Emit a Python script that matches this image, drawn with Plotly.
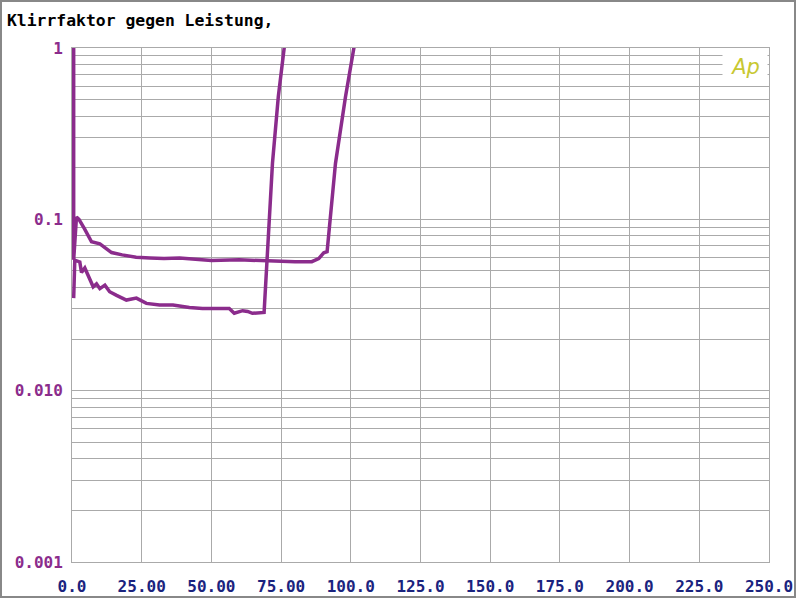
import plotly.graph_objects as go

# ---- data ----
upper_x = [0.6, 0.6, 1.6, 2.5, 4.5, 7.0, 10, 14.2, 18, 21.3, 23, 28, 33, 38.6, 45, 50, 60, 70, 75, 80, 86, 88.5, 90.3, 91.5, 94.5, 98.1, 101.1, 102]
upper_y = [1.0, 0.058, 0.103, 0.100, 0.088, 0.074, 0.072, 0.064, 0.062, 0.0605, 0.060, 0.0595, 0.059, 0.0595, 0.058, 0.0575, 0.058, 0.057, 0.0566, 0.0566, 0.0566, 0.059, 0.0638, 0.0647, 0.212, 0.52, 1.0, 1.1]

lower_x = [0.6, 1.0, 2.8, 3.4, 4.6, 6, 7.6, 8.8, 10, 11.8, 13.5, 16, 19.5, 23.1, 26.7, 31.4, 36.2, 42.1, 46.8, 52, 56.4, 58.2, 61.2, 63, 64.7, 68.9, 69.5, 71.9, 74.0, 76.1, 77]
lower_y = [0.0347, 0.0578, 0.0564, 0.049, 0.052, 0.046, 0.0404, 0.042, 0.0394, 0.0413, 0.0378, 0.036, 0.0338, 0.0347, 0.0323, 0.0316, 0.0316, 0.0306, 0.0302, 0.0302, 0.0302, 0.0283, 0.0293, 0.029, 0.0283, 0.0286, 0.044, 0.212, 0.52, 1.0, 1.1]

x_tickvals = [0, 25, 50, 75, 100, 125, 150, 175, 200, 225, 250]
x_ticktext = ["0.0", "25.00", "50.00", "75.00", "100.0", "125.0", "150.0", "175.0", "200.0", "225.0", "250.0"]

y_decades = [0.001, 0.01, 0.1, 1]
y_decade_text = ["0.001", "0.010", "0.1", "1"]

title_text = "Klirrfaktor gegen Leistung,"

# ---- build y ticks (decades labelled, minors as grid only) ----
y_tickvals, y_ticktext = [], []
for d, t in zip(y_decades, y_decade_text):
    y_tickvals.append(d)
    y_ticktext.append(t)
    if d < 1:
        for m in range(2, 10):
            y_tickvals.append(d * m)
            y_ticktext.append("")

LINE = "#8B2C8C"
GRID = "#aaaaaa"
MONO = "DejaVu Sans Mono"

fig = go.Figure()
for xs, ys in [(upper_x, upper_y), (lower_x, lower_y)]:
    fig.add_trace(go.Scatter(x=xs, y=ys, mode="lines",
                             line=dict(color=LINE, width=3.5), showlegend=False))

L, R, T, B = 72, 769, 48, 562
W, H = 800, 599
pw, ph = R - L, B - T

def px(x):
    return (x - L) / pw

def py(y):
    return (B - y) / ph

fig.update_layout(
    width=W, height=H,
    margin=dict(l=L, r=W - R, t=T, b=H - B, autoexpand=False),
    paper_bgcolor="white", plot_bgcolor="white",
    xaxis=dict(range=[0, 250], tickmode="array", tickvals=x_tickvals, ticktext=x_ticktext,
               showgrid=True, gridcolor=GRID, gridwidth=1, zeroline=False,
               showline=True, linecolor=GRID, linewidth=1, mirror=True,
               ticks="", ticklabelstandoff=10, automargin=False,
               tickfont=dict(family=MONO, size=16, color="#1a237e", weight="bold")),
    yaxis=dict(type="log", range=[-3, 0], tickmode="array", tickvals=y_tickvals, ticktext=y_ticktext,
               showgrid=True, gridcolor=GRID, gridwidth=1, zeroline=False,
               showline=True, linecolor=GRID, linewidth=1, mirror=True,
               ticks="", ticklabelstandoff=5, automargin=False,
               tickfont=dict(family=MONO, size=16, color=LINE, weight="bold")),
    annotations=[
        dict(text=title_text, xref="paper", yref="paper", x=px(5), y=py(21),
             xanchor="left", yanchor="middle", showarrow=False,
             font=dict(family=MONO, size=16.4, color="black", weight="bold")),
        dict(text="<i>Ap</i>", xref="paper", yref="paper", x=px(745), y=py(67),
             xanchor="center", yanchor="middle", showarrow=False,
             width=44, height=34, bgcolor="white", borderpad=0,
             font=dict(family="DejaVu Sans", size=21, color="#c8c832")),
    ],
    shapes=[
        dict(type="rect", xref="paper", yref="paper",
             x0=px(1), x1=px(795), y0=py(597), y1=py(1),
             line=dict(color="#888888", width=2), layer="below"),
    ],
)

fig.write_html("out.html")
